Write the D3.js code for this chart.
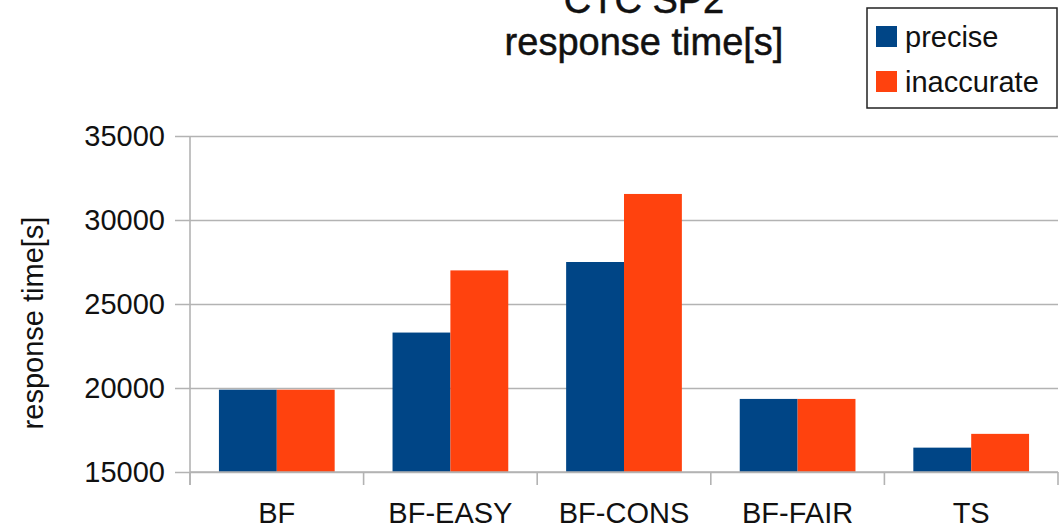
<!DOCTYPE html>
<html>
<head>
<meta charset="utf-8">
<script src="https://cdn.jsdelivr.net/npm/d3@7/dist/d3.min.js"></script>
<style>
  html, body { margin: 0; padding: 0; background: #fff; }
  svg { display: block; font-family: "Liberation Sans", Arial, sans-serif; }
</style>
</head>
<body>
<svg id="chart" width="1060" height="530"></svg>
<script>
// Response time per scheduling strategy (CTC SP2 workload)
const categories = ["BF", "BF-EASY", "BF-CONS", "BF-FAIR", "TS"];
const seriesNames = ["precise", "inaccurate"];
const precise = [19900, 23300, 27500, 19350, 16450];
const inaccurate = [19900, 27000, 31550, 19350, 17270];
const yTicks = [15000, 20000, 25000, 30000, 35000];
const titleLines = ["CTC SP2", "response time[s]"];
const yAxisTitle = "response time[s]";

const colors = { precise: "#004586", inaccurate: "#ff420e" };
const gridColor = "#b3b3b3";

const svg = d3.select("#chart");
const plot = { left: 190, right: 1058, top: 136, bottom: 472 };

const x = d3.scaleBand().domain(categories).range([plot.left, plot.right]).paddingInner(0).paddingOuter(0);
const xInner = d3.scaleBand().domain(seriesNames)
  .range([x.bandwidth() / 6, x.bandwidth() * 5 / 6]);
const y = d3.scaleLinear().domain([15000, 35000]).range([plot.bottom, plot.top]);

const rows = categories.map((c, i) => ({ category: c, precise: precise[i], inaccurate: inaccurate[i] }));

// horizontal gridlines with short ticks left of the axis
const yAxis = d3.axisLeft(y).tickValues(yTicks).tickFormat(d3.format("d"))
  .tickSize(-(plot.right - plot.left) - 15).tickPadding(10);
const gy = svg.append("g").attr("transform", `translate(${plot.left - 15},0)`).call(yAxis);
gy.select(".domain").remove();
gy.selectAll(".tick line").attr("x1", 0).attr("x2", plot.right - plot.left + 15)
  .attr("stroke", gridColor).attr("stroke-width", 1.6);
gy.selectAll(".tick text").attr("font-size", 29).attr("fill", "#111")
  .attr("font-family", "Liberation Sans, Arial, sans-serif");

// bars
const groups = svg.append("g").selectAll("g").data(rows).join("g")
  .attr("transform", d => `translate(${x(d.category)},0)`);
groups.selectAll("rect")
  .data(d => seriesNames.map(s => ({ key: s, value: d[s] })))
  .join("rect")
  .attr("x", d => xInner(d.key))
  .attr("width", xInner.bandwidth())
  .attr("y", d => y(d.value))
  .attr("height", d => y(15000) - y(d.value))
  .attr("fill", d => colors[d.key]);

// vertical axis line
svg.append("line")
  .attr("x1", plot.left).attr("x2", plot.left)
  .attr("y1", plot.top).attr("y2", plot.bottom + 13)
  .attr("stroke", gridColor).attr("stroke-width", 1.6);

// x axis: line, ticks at category boundaries, labels centred
svg.append("line")
  .attr("x1", plot.left).attr("x2", plot.right)
  .attr("y1", plot.bottom).attr("y2", plot.bottom)
  .attr("stroke", gridColor).attr("stroke-width", 1.6);
const boundaries = categories.map(c => x(c) + x.bandwidth()).concat([x(categories[0])]);
svg.append("g").selectAll("line").data(boundaries).join("line")
  .attr("x1", d => d).attr("x2", d => d)
  .attr("y1", plot.bottom).attr("y2", plot.bottom + 13)
  .attr("stroke", gridColor).attr("stroke-width", 1.6);
svg.append("g").selectAll("text").data(categories).join("text")
  .attr("x", d => x(d) + x.bandwidth() / 2)
  .attr("y", 523)
  .attr("text-anchor", "middle")
  .attr("font-size", 29).attr("fill", "#111")
  .text(d => d);

// y axis title
svg.append("text")
  .attr("transform", "translate(43,323) rotate(-90)")
  .attr("text-anchor", "middle")
  .attr("font-size", 29).attr("fill", "#111")
  .text(yAxisTitle);

// chart title (first line runs off the top edge)
svg.append("g").selectAll("text").data(titleLines).join("text")
  .attr("x", 644)
  .attr("y", (d, i) => 13 + i * 42)
  .attr("text-anchor", "middle")
  .attr("font-size", 38).attr("fill", "#111")
  .attr("stroke", "#111").attr("stroke-width", 0.5)
  .text(d => d);

// legend
const legend = svg.append("g").attr("transform", "translate(867,8)");
legend.append("rect").attr("width", 190).attr("height", 100)
  .attr("fill", "#fff").attr("stroke", "#222").attr("stroke-width", 1.5);
const items = legend.selectAll("g.item").data(seriesNames).join("g")
  .attr("class", "item")
  .attr("transform", (d, i) => `translate(9,${18 + i * 45})`);
items.append("rect").attr("width", 21).attr("height", 21).attr("fill", d => colors[d]);
items.append("text").attr("x", 29).attr("y", 21)
  .attr("font-size", 29).attr("fill", "#111").text(d => d);
</script>
</body>
</html>
